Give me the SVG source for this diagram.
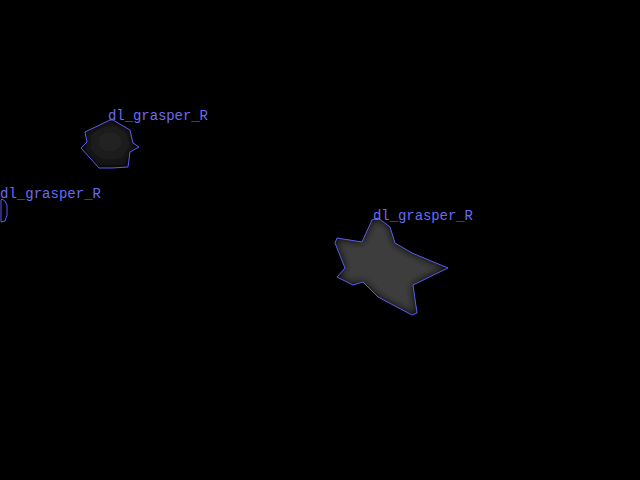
<svg xmlns="http://www.w3.org/2000/svg" width="640" height="480" viewBox="0 0 640 480">
<style>
.outline{fill:none;stroke:#5c5cf0;stroke-width:1;stroke-linejoin:round}
.lbl{font-family:"Liberation Mono","DejaVu Sans Mono",monospace;font-size:14px;fill:#6a6af5}
</style>
<defs>
<filter id="soft" x="-20%" y="-20%" width="140%" height="140%"><feGaussianBlur stdDeviation="4"/></filter>
<radialGradient id="g1" cx="0.5" cy="0.45" r="0.55"><stop offset="0" stop-color="#262626"/><stop offset="1" stop-color="#141414"/></radialGradient>
<clipPath id="c1"><polygon points="110,120 85,132 87,142 81,148 99,168 112,168 128,167 130,152 139,147 133,143 130,130 113,120"/></clipPath>
<clipPath id="c3"><polygon points="372,220 362,242 337,238 335,243 345,268 337,277 353,285 363,282 378,297 412,315 417,313 413,285 448,268 412,253 395,243 390,227 378,218"/></clipPath>
</defs>
<rect width="640" height="480" fill="#000"/>
<g id="obj1">
<g clip-path="url(#c1)"><polygon points="110,120 85,132 87,142 81,148 99,168 112,168 128,167 130,152 139,147 133,143 130,130 113,120" fill="url(#g1)" filter="url(#soft)"/></g>
<polygon class="outline" points="110,120 85,132 87,142 81,148 99,168 112,168 128,167 130,152 139,147 133,143 130,130 113,120"/>
<text class="lbl" x="108" y="120" textLength="100">dl_grasper_R</text>
</g>
<g id="obj2">
<polygon class="outline" points="2,199 5,201 7,205 7,215 5,221 1,222 1,200"/>
<text class="lbl" x="0" y="198" textLength="101">dl_grasper_R</text>
</g>
<g id="obj3">
<g clip-path="url(#c3)"><polygon points="372,220 362,242 337,238 335,243 345,268 337,277 353,285 363,282 378,297 412,315 417,313 413,285 448,268 412,253 395,243 390,227 378,218" fill="#3c3c3c" filter="url(#soft)"/></g>
<polygon class="outline" points="372,220 362,242 337,238 335,243 345,268 337,277 353,285 363,282 378,297 412,315 417,313 413,285 448,268 412,253 395,243 390,227 378,218"/>
<text class="lbl" x="373" y="220" textLength="100">dl_grasper_R</text>
</g>
</svg>
